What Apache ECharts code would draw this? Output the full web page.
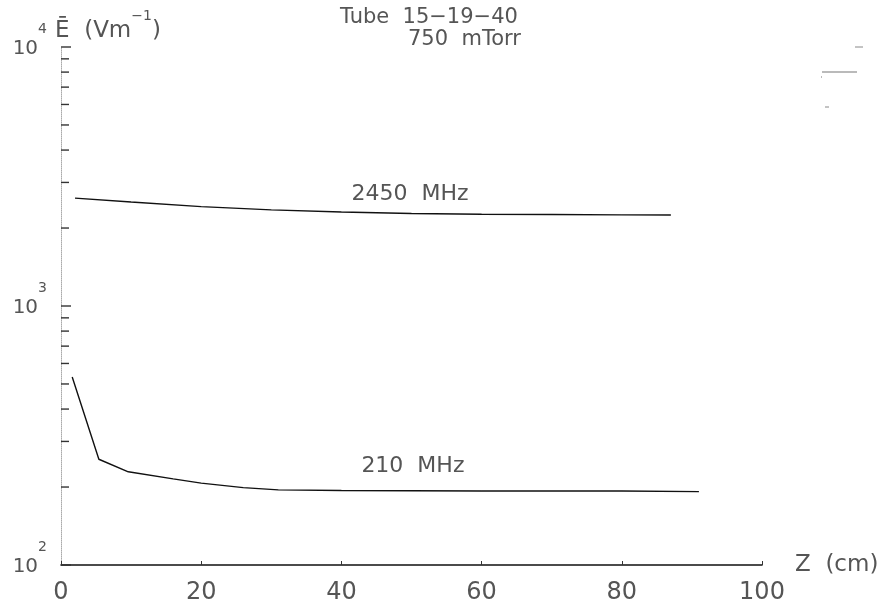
<!DOCTYPE html>
<html>
<head>
<meta charset="utf-8">
<style>
  html, body { margin: 0; padding: 0; background: #fff; }
  #chart { width: 895px; height: 606px; }
</style>
<script src="https://cdn.jsdelivr.net/npm/echarts@6/dist/echarts.min.js"></script>
</head>
<body>
<div id="chart"></div>
<script>
// Axial position along the tube (cm) and mean field (V/m)
const z2450 = [2, 10, 20, 30, 40, 50, 60, 70, 80, 87];
const e2450 = [2610, 2520, 2420, 2350, 2305, 2275, 2262, 2255, 2248, 2245];

const z210 = [1.6, 5.4, 9.6, 16, 20, 26, 31, 40, 60, 80, 91];
const e210 = [532, 256, 229, 215, 207, 199, 195, 194, 193, 193, 192];

const xTicks = [0, 20, 40, 60, 80, 100];
// Decade and sub-decade tick positions on the log field axis
const yTicks = [100, 200, 300, 400, 500, 600, 700, 800, 900,
                1000, 2000, 3000, 4000, 5000, 6000, 7000, 8000, 9000, 10000];
const yMajor = [100, 1000, 10000];

const seriesNames = ['2450 MHz', '210 MHz'];
// Where each curve's caption sits, in data units
const captionAt = [[49.8, 2690], [50.2, 241]];

const FONT = 'DejaVu Sans';
const INK = '#555';

const chart = echarts.init(document.getElementById('chart'));

function pairs(xs, ys) { return xs.map((x, i) => [x, ys[i]]); }

function caption(i) {
  return {
    symbol: 'circle',
    symbolSize: 1,
    itemStyle: { color: 'rgba(0,0,0,0)' },
    data: [{ coord: captionAt[i] }],
    label: {
      show: true, position: 'inside',
      formatter: seriesNames[i].replace(' ', '  '),
      fontFamily: FONT, fontSize: 22, color: INK
    }
  };
}

const option = {
  animation: false,
  backgroundColor: '#fff',
  grid: { left: 61, right: 133, top: 47, bottom: 41, containLabel: false },
  xAxis: {
    type: 'value',
    min: 0, max: 100, interval: 20,
    name: 'Z  (cm)',
    nameLocation: 'end',
    nameGap: 33,
    nameTextStyle: { fontFamily: FONT, fontSize: 23, color: INK, verticalAlign: 'middle' },
    axisLine: { show: true, lineStyle: { color: '#111', width: 1.6 } },
    axisTick: { show: true, inside: true, length: 4, lineStyle: { color: '#333', width: 1 } },
    axisLabel: {
      show: true, margin: 16, fontFamily: FONT, fontSize: 24, color: INK,
      formatter: v => xTicks.includes(v) ? String(v) : ''
    },
    splitLine: { show: false }
  },
  yAxis: {
    type: 'log',
    logBase: 10,
    min: 100, max: 10000,
    name: '{a|Ē  (Vm}{s|−1}{a|)}',
    nameLocation: 'end',
    nameGap: 4,
    nameTextStyle: {
      align: 'left',
      padding: [0, 0, 0, -6],
      rich: {
        a: { fontFamily: FONT, fontSize: 23, color: INK, verticalAlign: 'bottom', lineHeight: 34 },
        s: { fontFamily: FONT, fontSize: 14, color: INK, verticalAlign: 'top', lineHeight: 14 }
      }
    },
    axisLine: { show: true, lineStyle: { color: '#aaa', width: 1, type: 'dotted' } },
    axisTick: { show: false },
    splitLine: { show: false },
    axisLabel: {
      show: true, margin: 14,
      padding: [0, 0, 13, 0],
      formatter: v => '{b|10}{e|' + Math.round(Math.log10(v)) + '}',
      rich: {
        b: { fontFamily: FONT, fontSize: 20, color: INK, verticalAlign: 'bottom', lineHeight: 36 },
        e: { fontFamily: FONT, fontSize: 14, color: INK, verticalAlign: 'top', lineHeight: 14 }
      }
    }
  },
  graphic: [
    { type: 'text', left: 340, top: 7,
      style: { text: 'Tube  15−19−40', fontFamily: FONT, fontSize: 21, fill: INK } },
    { type: 'text', left: 408, top: 29,
      style: { text: '750  mTorr', fontFamily: FONT, fontSize: 21, fill: INK } },
    // faint marks at the upper right
    { type: 'line', shape: { x1: 855, y1: 47, x2: 863, y2: 47 }, style: { stroke: '#888', lineWidth: 1 } },
    { type: 'line', shape: { x1: 822, y1: 72, x2: 857, y2: 72 }, style: { stroke: '#777', lineWidth: 1.2 } },
    { type: 'line', shape: { x1: 821, y1: 77, x2: 822, y2: 77 }, style: { stroke: '#777', lineWidth: 1 } },
    { type: 'line', shape: { x1: 825, y1: 107, x2: 829, y2: 107 }, style: { stroke: '#888', lineWidth: 1 } }
  ],
  series: [
    {
      name: seriesNames[0],
      type: 'line',
      data: pairs(z2450, e2450),
      showSymbol: false,
      symbol: 'none',
      lineStyle: { color: '#111', width: 1.4 },
      markPoint: caption(0)
    },
    {
      name: seriesNames[1],
      type: 'line',
      data: pairs(z210, e210),
      showSymbol: false,
      symbol: 'none',
      lineStyle: { color: '#111', width: 1.4 },
      markPoint: caption(1)
    },
    {
      // inward tick marks on the log axis, one per decade step
      type: 'custom',
      silent: true,
      clip: false,
      data: yTicks.map(v => [0, v]),
      renderItem: function (params, api) {
        const v = api.value(1);
        const p = api.coord([0, v]);
        const len = yMajor.includes(v) ? 10 : 8;
        return {
          type: 'line',
          shape: { x1: p[0], y1: p[1], x2: p[0] + len, y2: p[1] },
          style: { stroke: '#333', lineWidth: 1.4 }
        };
      }
    }
  ]
};

chart.setOption(option);
</script>
</body>
</html>
